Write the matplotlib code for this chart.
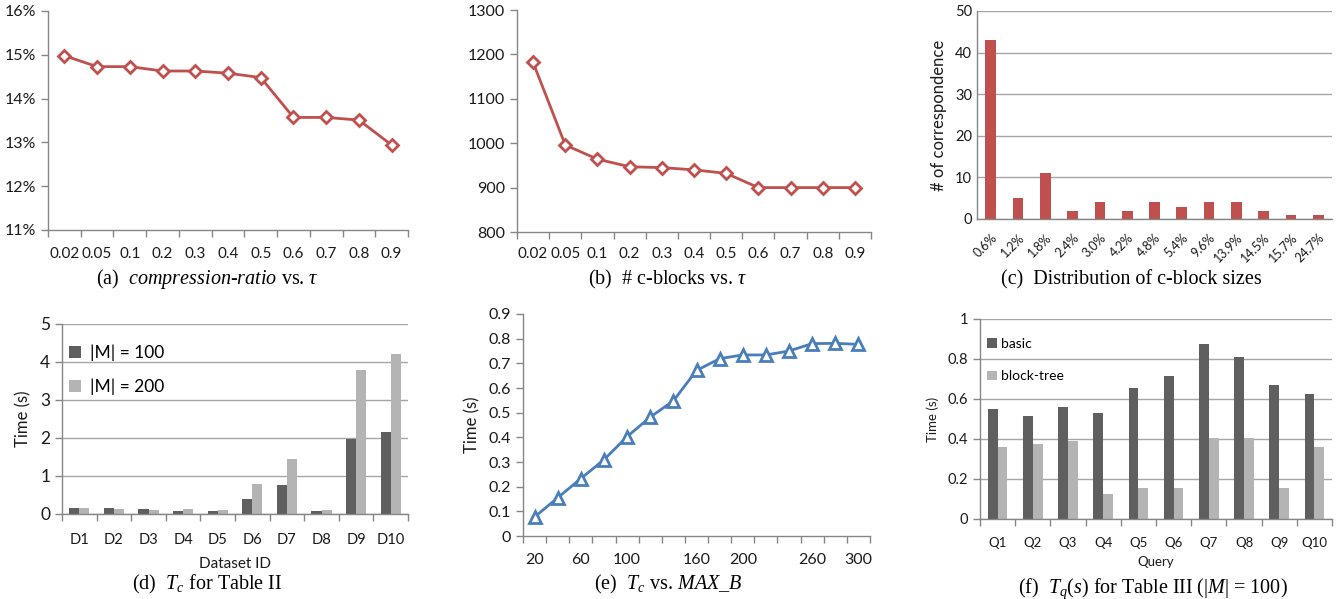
import numpy as np
import matplotlib.pyplot as plt

plt.rcParams['font.family'] = ['Lato', 'DejaVu Sans']
plt.rcParams['mathtext.fontset'] = 'custom'
plt.rcParams['mathtext.rm'] = 'Liberation Serif'
plt.rcParams['mathtext.it'] = 'Liberation Serif:italic'

RED = '#c0504d'
BLUE = '#4a7ebb'
DARK = '#5f5f5f'
LIGHT = '#b4b4b4'
AXIS = '#868686'
GRID = '#a6a6a6'
TXT = '#1a1a1a'

# (a) / (b) data
tau = ['0.02', '0.05', '0.1', '0.2', '0.3', '0.4', '0.5', '0.6', '0.7', '0.8', '0.9']
compression_ratio = [14.98, 14.73, 14.73, 14.63, 14.63, 14.58, 14.48, 13.57, 13.57, 13.51, 12.94]
num_cblocks = [1182, 996, 964, 947, 945, 940, 932, 900, 900, 900, 900]

# (c) data
block_sizes = ['0.6%', '1.2%', '1.8%', '2.4%', '3.0%', '4.2%', '4.8%', '5.4%', '9.6%',
               '13.9%', '14.5%', '15.7%', '24.7%']
size_counts = [43, 5, 11, 2, 4, 2, 4, 3, 4, 4, 2, 1, 1]

# (d) data
datasets = ['D1', 'D2', 'D3', 'D4', 'D5', 'D6', 'D7', 'D8', 'D9', 'D10']
tc_m100 = [0.17, 0.16, 0.13, 0.09, 0.09, 0.39, 0.77, 0.07, 1.98, 2.15]
tc_m200 = [0.15, 0.13, 0.11, 0.13, 0.11, 0.80, 1.44, 0.10, 3.80, 4.21]

# (e) data
max_b = [20, 40, 60, 80, 100, 120, 140, 160, 180, 200, 220, 240, 260, 280, 300]
max_b_labels = ['20', '', '60', '', '100', '', '', '160', '', '200', '', '', '260', '', '300']
tc_maxb = [0.077, 0.155, 0.233, 0.309, 0.403, 0.482, 0.548, 0.671, 0.719, 0.734, 0.734,
           0.750, 0.780, 0.781, 0.777]

# (f) data
queries = ['Q1', 'Q2', 'Q3', 'Q4', 'Q5', 'Q6', 'Q7', 'Q8', 'Q9', 'Q10']
tq_basic = [0.548, 0.513, 0.559, 0.529, 0.654, 0.716, 0.873, 0.811, 0.669, 0.623]
tq_blocktree = [0.359, 0.374, 0.389, 0.124, 0.155, 0.155, 0.406, 0.406, 0.155, 0.359]

W, H = 1341, 599
fig = plt.figure(figsize=(W / 100, H / 100), dpi=100)


def box(l, t, r, b):
    return [l / W, 1 - b / H, (r - l) / W, (b - t) / H]


def style(ax, labels, fs, pad, boundary_ticks=True, grid=False):
    n = len(labels)
    ax.set_xlim(-0.5, n - 0.5)
    for s in ['top', 'right']:
        ax.spines[s].set_visible(False)
    for s in ['left', 'bottom']:
        ax.spines[s].set_color(AXIS)
        ax.spines[s].set_linewidth(1)
    ax.set_xticks(np.arange(n + 1) - 0.5)
    ax.set_xticklabels([])
    ax.set_xticks(np.arange(n), minor=True)
    ax.set_xticklabels(labels, minor=True, fontsize=fs, color=TXT)
    ax.tick_params(axis='x', which='major', length=5 if boundary_ticks else 0,
                   color=AXIS, width=1)
    ax.tick_params(axis='x', which='minor', length=0, pad=pad)
    ax.tick_params(axis='y', length=5, color=AXIS, width=1, labelcolor=TXT)
    if grid:
        ax.yaxis.grid(True, color=GRID, lw=1)
        ax.set_axisbelow(True)


def caption(x, y, s):
    fig.text(x / W, 1 - y / H, s, ha='center', va='center', fontsize=14.5,
             family='Liberation Serif', color='black')


x_tau = np.arange(len(tau))

# (a)
ax = fig.add_axes(box(48, 11, 408, 230))
ax.plot(x_tau, compression_ratio, color=RED, lw=2, marker='D', ms=6,
        mfc='white', mec=RED, mew=2)
style(ax, tau, 11, 12)
ax.set_ylim(11, 16)
ax.set_yticks([11, 12, 13, 14, 15, 16])
ax.set_yticklabels(['11%', '12%', '13%', '14%', '15%', '16%'], fontsize=11.5)
caption(207, 279, r'(a)  $\it{compression}$-$\it{ratio}$ vs. $\tau$')

# (b)
ax = fig.add_axes(box(517, 10, 871, 232))
ax.plot(x_tau, num_cblocks, color=RED, lw=2, marker='D', ms=6,
        mfc='white', mec=RED, mew=2)
style(ax, tau, 11, 11)
ax.set_ylim(800, 1300)
ax.set_yticks([800, 900, 1000, 1100, 1200, 1300])
ax.tick_params(axis='y', labelsize=11.5)
caption(668, 279, r'(b)  # c-blocks vs. $\tau$')

# (c)
ax = fig.add_axes(box(977, 11, 1332, 219))
xc = np.arange(len(block_sizes))
ax.bar(xc, size_counts, width=0.39, color=RED)
style(ax, block_sizes, 9, 9, boundary_ticks=False, grid=True)
for lab in ax.get_xticklabels(minor=True):
    lab.set_rotation(45)
    lab.set_ha('right')
    lab.set_va('top')
    lab.set_rotation_mode('anchor')
ax.set_ylim(0, 50)
ax.set_yticks([0, 10, 20, 30, 40, 50])
ax.tick_params(axis='y', labelsize=10.5, length=0)
ax.set_ylabel('# of correspondence', fontsize=12, color=TXT, labelpad=6)
caption(1131, 280, '(c)  Distribution of c-block sizes')

# (d)
ax = fig.add_axes(box(62, 324, 408, 514))
xd = np.arange(len(datasets))
ax.bar(xd - 0.145, tc_m100, width=0.29, color=DARK, label='|M| = 100')
ax.bar(xd + 0.145, tc_m200, width=0.29, color=LIGHT, label='|M| = 200')
style(ax, datasets, 10.5, 14, grid=True)
ax.set_ylim(0, 5)
ax.set_yticks([0, 1, 2, 3, 4, 5])
ax.tick_params(axis='y', labelsize=12.5)
ax.set_ylabel('Time (s)', fontsize=12, color=TXT, labelpad=6)
ax.set_xlabel('Dataset ID', fontsize=11, color=TXT, labelpad=7)
ax.legend(loc='upper left', bbox_to_anchor=(-0.025, 0.975), frameon=False, fontsize=12.5,
          handlelength=0.7, handleheight=0.7, handletextpad=0.5, labelspacing=1.0)
caption(207, 584, r'(d)  $T_c$ for Table II')

# (e)
ax = fig.add_axes(box(523, 314, 870, 536))
xe = np.arange(len(max_b))
ax.plot(xe, tc_maxb, color=BLUE, lw=2, marker='^', ms=8,
        mfc='white', mec=BLUE, mew=2)
style(ax, max_b_labels, 11.5, 12)
ax.set_ylim(0, 0.9)
ax.set_yticks([0, 0.1, 0.2, 0.3, 0.4, 0.5, 0.6, 0.7, 0.8, 0.9])
ax.set_yticklabels(['0', '0.1', '0.2', '0.3', '0.4', '0.5', '0.6', '0.7', '0.8', '0.9'],
                   fontsize=11.5)
ax.set_ylabel('Time (s)', fontsize=12, color=TXT, labelpad=6)
caption(668, 584, r'(e)  $T_c$ vs. $MAX\_B$')

# (f)
ax = fig.add_axes(box(980, 319, 1332, 519))
xf = np.arange(len(queries))
ax.bar(xf - 0.14, tq_basic, width=0.28, color=DARK, label='basic')
ax.bar(xf + 0.14, tq_blocktree, width=0.28, color=LIGHT, label='block-tree')
style(ax, queries, 9.5, 13, grid=True)
ax.set_ylim(0, 1)
ax.set_yticks([0, 0.2, 0.4, 0.6, 0.8, 1])
ax.set_yticklabels(['0', '0.2', '0.4', '0.6', '0.8', '1'], fontsize=10.5)
ax.set_ylabel('Time (s)', fontsize=9.5, color=TXT, labelpad=6)
ax.set_xlabel('Query', fontsize=9.5, color=TXT, labelpad=5)
ax.legend(loc='upper left', bbox_to_anchor=(-0.015, 0.97), frameon=False, fontsize=10,
          handlelength=0.7, handleheight=0.7, handletextpad=0.3, labelspacing=1.5)
caption(1153, 589, r'(f)  $T_q(s)$ for Table III ($|M|$ = 100)')

fig.savefig('out.png', dpi=100)
